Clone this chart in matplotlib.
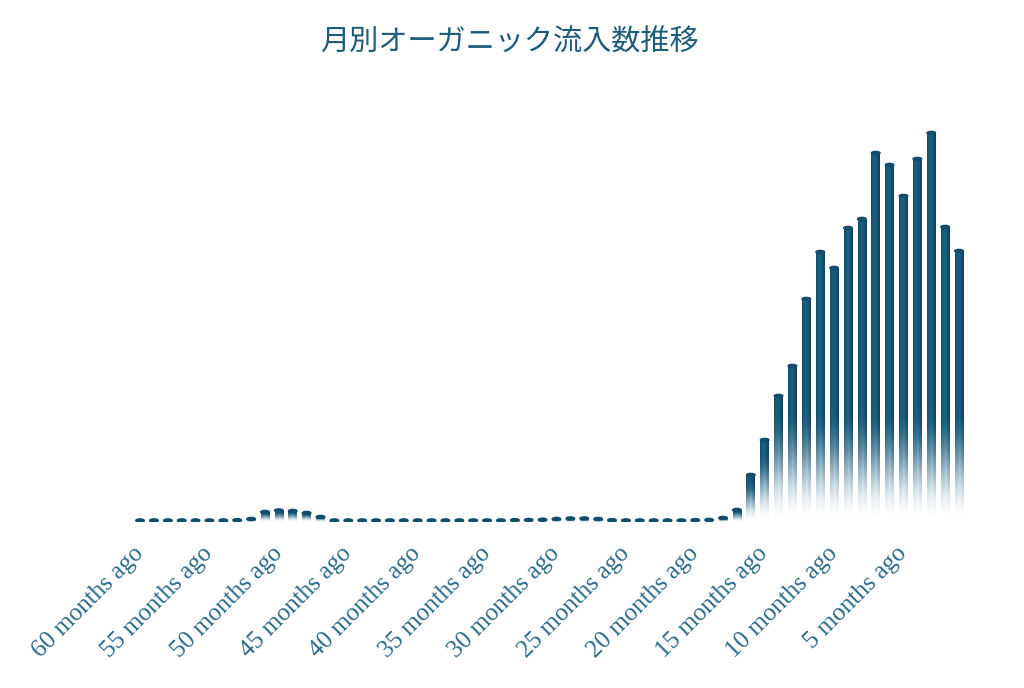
import numpy as np
import matplotlib
matplotlib.use("Agg")
import matplotlib.pyplot as plt
from matplotlib.patches import Ellipse

# monthly organic sessions, oldest (60 months ago) -> newest (1 month ago)
months_ago = list(range(60, 0, -1))
sessions = [
    15, 15, 15, 15, 15, 15, 15, 18,          # 60-53
    30, 100, 115, 110, 90, 50,               # 52-47
    15, 15, 15, 15, 15, 15, 15, 15,          # 46-39
    15, 15, 15, 15, 15, 18, 20, 22,          # 38-31
    30, 35, 35, 30, 18, 15, 15, 15,          # 30-23
    15, 15, 18, 20, 40, 120,                 # 22-17
    470, 820, 1260, 1560, 2230, 2700, 2540,  # 16-10
    2940, 3030, 3690, 3570, 3260, 3630,      # 9-4
    3890, 2950, 2710,                        # 3-1
]
tick_months = list(range(60, 0, -5))
tick_labels = [f"{m} months ago" for m in tick_months]
title = "月別オーガニック流入数推移"

bar_rgb = np.array([0.10, 0.37, 0.50])
edge_rgb = np.array([0.06, 0.27, 0.38])
bar_w = 0.62

fig = plt.figure(figsize=(10.24, 6.88), dpi=100)
ax = fig.add_axes([0.1266, 0.2413, 0.8201, 0.6134])

x = np.arange(len(sessions))
bars = ax.bar(x, sessions, width=bar_w, color="none", edgecolor="none")

# horizontal cylinder shading
cols = np.linspace(-1, 1, 24)
shade = np.clip(1 - np.abs(cols + 0.2) ** 2, 0, 1)
col_rgb = edge_rgb[None, :] + (bar_rgb - edge_rgb)[None, :] * shade[:, None]
streak = np.exp(-((cols - 0.1) / 0.25) ** 2)

for rect, v in zip(bars, sessions):
    x0 = rect.get_x()
    n = 300
    yy = np.linspace(0, v, n)
    fade = min(1100, 0.85 * v)
    t = np.clip(yy / fade, 0, 1)
    alpha = t * t * (3 - 2 * t)
    img = np.zeros((n, len(cols), 4))
    img[:, :, :3] = col_rgb[None, :, :]
    # faint lighter streak in the faded part
    img[:, :, :3] += 0.3 * streak[None, :, None] * (1 - alpha)[:, None, None]
    img[:, :, :3] = np.clip(img[:, :, :3], 0, 1)
    img[:, :, 3] = alpha[:, None]
    im = ax.imshow(img, extent=[x0, x0 + bar_w, 0, v], origin="lower",
                   aspect="auto", interpolation="bilinear", zorder=2)
    im.set_clip_path(rect)
    cap = Ellipse((x0 + bar_w / 2, v), bar_w, 32, color="#134d6a", zorder=3)
    ax.add_patch(cap)

ax.set_xlim(-0.75, 59.75)
ax.set_ylim(0, 4220)
ax.set_xticks([60 - m for m in tick_months])
ax.set_xticklabels(tick_labels, rotation=45, ha="right", va="center",
                   rotation_mode="anchor", fontsize=18,
                   family="Liberation Serif", color="#2a6a8b")
ax.tick_params(axis="x", length=0, pad=20)
ax.set_yticks([])
for s in ax.spines.values():
    s.set_visible(False)

fig.text(0.498, 0.938, title, ha="center", va="center", fontsize=21,
         family=["Noto Sans CJK JP", "DejaVu Sans"], color="#1f5c7a")

fig.savefig("out.png", dpi=100)
